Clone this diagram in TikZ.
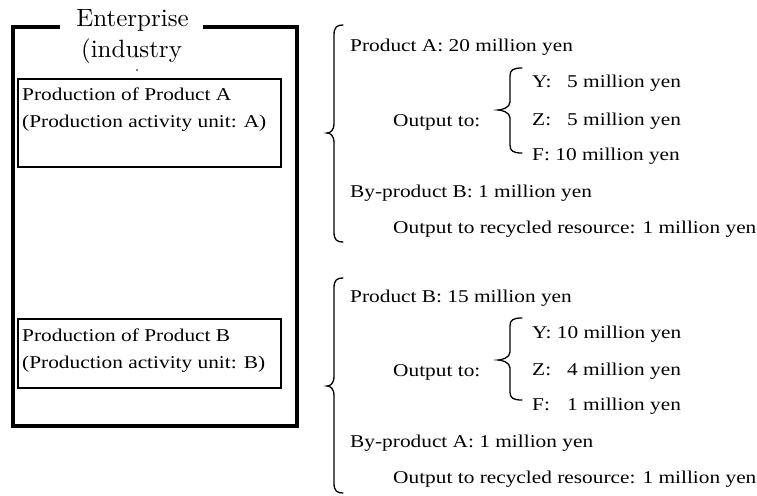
\documentclass[tikz,border=0pt]{standalone}
\usepackage{fontspec}
\setmainfont{Liberation Serif}
\newfontfamily\titlefont{lmroman10-regular.otf}

% curly brace opening to the right: hook x, back x, tip x, top y, middle y, bottom y, corner radius
\newcommand\curlybrace[7]{%
  \draw[bracepath] (#1,#4) .. controls (#2+3,#4) and (#2,#4+2) .. (#2,#4+#7)
    -- (#2,#5-#7) .. controls (#2,#5-2) and (#3+3,#5) .. (#3,#5)
    .. controls (#3+3,#5) and (#2,#5+2) .. (#2,#5+#7)
    -- (#2,#6-#7) .. controls (#2,#6-2) and (#2+3,#6) .. (#1,#6);}

\begin{document}
\begin{tikzpicture}[x=1pt,y=-1pt,
  body/.style={font=\rmfamily\fontsize{18}{21}\selectfont, inner sep=0pt, anchor=base west, xscale=1.185},
  title/.style={font=\titlefont\fontsize{25}{30}\selectfont, inner sep=0pt, anchor=base},
  unitbox/.style={draw, line width=1.5pt, anchor=north west, inner sep=0pt},
  frame/.style={line width=4pt, line join=miter},
  bracepath/.style={line width=1.3pt, line cap=round}]
\useasboundingbox (0,0) rectangle (757,495);

% enterprise frame with a gap for its title
\draw[frame] (60,27) -- (13,27) -- (13,426) -- (297,426) -- (297,27) -- (203,27);
\node[title] (ent1) at (132.5,27) {Enterprise};
\node[title] (ent2) at (131.5,57) {(industry};
\fill (137,70) circle (0.8);

% production activity units
\node[unitbox, minimum width=263pt, minimum height=88pt] (boxA) at (17,78) {};
\node[body] (boxA1) at (22,100) {Production of Product A};
\node[body] (boxA2) at (22,127) {(Production activity unit: A)};

\node[unitbox, minimum width=263pt, minimum height=69pt] (boxB) at (17,318) {};
\node[body] (boxB1) at (22,341) {Production of Product B};
\node[body] (boxB2) at (22,368) {(Production activity unit: B)};

% outputs of unit A
\curlybrace{343}{334}{327}{25}{133}{242}{10}
\node[body] (pa) at (350,52) {Product A: 20 million yen};
\node[body] (outA) at (393,126) {Output to:};
\curlybrace{522}{510}{498}{68}{110}{153}{8}
\node[body] (yA) at (532,88) {Y:};
\node[body] (yAv) at (567,88) {5 million yen};
\node[body] (zA) at (532,125) {Z:};
\node[body] (zAv) at (567,125) {5 million yen};
\node[body] (fA) at (532,160) {F: 10 million yen};
\node[body] (bpB) at (350,197) {By-product B: 1 million yen};
\node[body] (recA) at (393,233) {Output to recycled resource: 1 million yen};

% outputs of unit B
\curlybrace{343}{334}{327}{278}{386}{493}{10}
\node[body] (pb) at (350,302) {Product B: 15 million yen};
\node[body] (outB) at (393,376) {Output to:};
\curlybrace{522}{510}{498}{318}{360}{400}{8}
\node[body] (yB) at (532,338) {Y: 10 million yen};
\node[body] (zB) at (532,375) {Z:};
\node[body] (zBv) at (567,375) {4 million yen};
\node[body] (fB) at (532,410) {F:};
\node[body] (fBv) at (567,410) {1 million yen};
\node[body] (bpA) at (350,447) {By-product A: 1 million yen};
\node[body] (recB) at (393,483) {Output to recycled resource: 1 million yen};
\end{tikzpicture}
\end{document}
